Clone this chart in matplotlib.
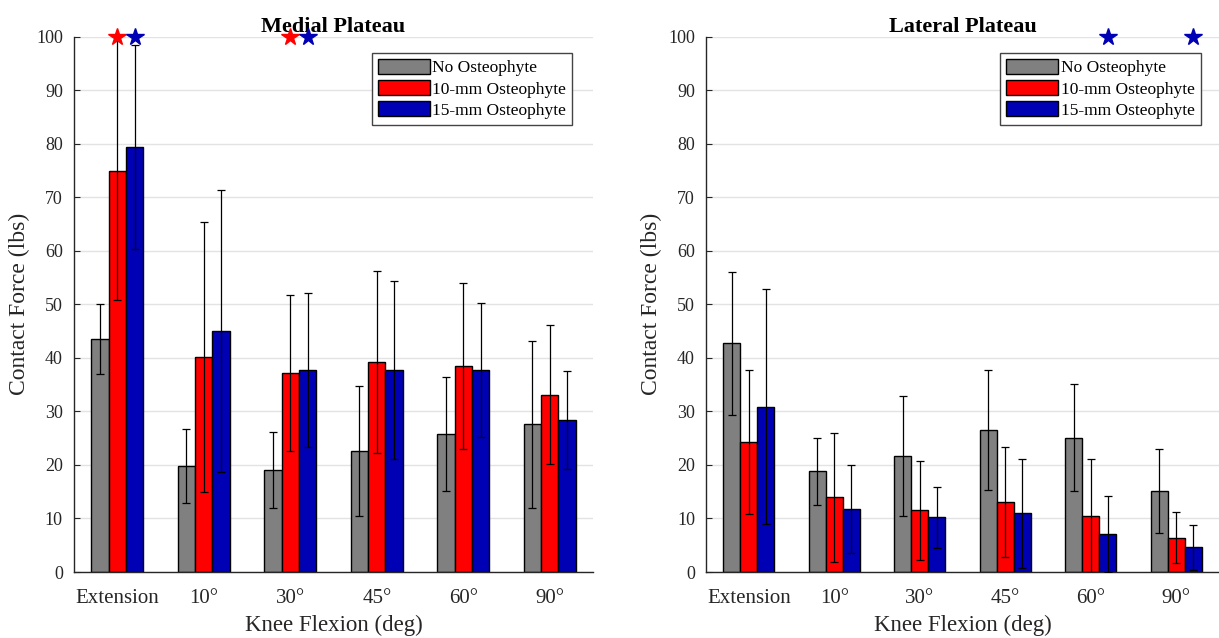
import matplotlib
matplotlib.use("Agg")
import matplotlib.pyplot as plt
import numpy as np

plt.rcParams['font.family'] = ['Liberation Serif', 'DejaVu Serif']

angles = ["Extension", "10°", "30°", "45°", "60°", "90°"]
series_names = ["No Osteophyte", "10-mm Osteophyte", "15-mm Osteophyte"]
colors = ["#808080", "#ff0000", "#0000b4"]

# medial plateau: means and SDs (lbs)
medial_none = [43.5, 19.8, 19.1, 22.6, 25.8, 27.6]
medial_none_sd = [6.5, 6.9, 7.05, 12.1, 10.65, 15.6]
medial_10 = [75.0, 40.1, 37.2, 39.2, 38.5, 33.1]
medial_10_sd = [24.2, 25.2, 14.5, 17.0, 15.5, 13.0]
medial_15 = [79.4, 45.0, 37.7, 37.8, 37.7, 28.4]
medial_15_sd = [19.0, 26.3, 14.4, 16.6, 12.5, 9.1]

# lateral plateau
lateral_none = [42.7, 18.8, 21.7, 26.5, 25.1, 15.2]
lateral_none_sd = [13.3, 6.25, 11.2, 11.2, 10.05, 7.85]
lateral_10 = [24.3, 14.0, 11.5, 13.1, 10.5, 6.4]
lateral_10_sd = [13.45, 12.05, 9.2, 10.2, 10.7, 4.75]
lateral_15 = [30.9, 11.7, 10.2, 11.0, 7.05, 4.6]
lateral_15_sd = [21.9, 8.2, 5.7, 10.2, 7.1, 4.2]

# significance stars: (angle index, series index)
medial_stars = [(0, 1), (0, 2), (2, 1), (2, 2)]
lateral_stars = [(4, 2), (5, 2)]

fig = plt.figure(figsize=(12.19, 6.38), dpi=100)
ax1 = fig.add_axes([0.0607, 0.1034, 0.4258, 0.8391])
ax2 = fig.add_axes([0.5792, 0.1034, 0.4208, 0.8391])

ink = "#262626"
width = 0.2
offsets = [-width, 0, width]
x = np.arange(1, len(angles) + 1)


def panel(ax, means, sds, stars, title, legend_x):
    for k in range(3):
        ax.bar(x + offsets[k], means[k], width, color=colors[k],
               edgecolor="black", linewidth=1.0, label=series_names[k], zorder=2)
        ax.errorbar(x + offsets[k], means[k], yerr=sds[k], fmt="none",
                    ecolor="black", elinewidth=0.9, capsize=3, capthick=0.9, zorder=3)
    for i, k in stars:
        ax.plot(x[i] + offsets[k], 100, marker="*", markersize=13, color=colors[k],
                linestyle="none", clip_on=False, zorder=5)
    ax.set_xlim(0.5, 6.5)
    ax.set_ylim(0, 100)
    ax.set_yticks(np.arange(0, 101, 10))
    ax.set_xticks(x)
    ax.set_xticklabels(angles)
    ax.yaxis.grid(True, color="#e3e3e3", linewidth=1.0, zorder=0)
    ax.set_axisbelow(True)
    for s in ["top", "right"]:
        ax.spines[s].set_visible(False)
    for s in ["left", "bottom"]:
        ax.spines[s].set_color(ink)
        ax.spines[s].set_linewidth(1.0)
    ax.tick_params(axis="y", direction="in", length=4, width=0.8, colors=ink,
                   labelsize=13, pad=8)
    ax.tick_params(axis="x", length=0, colors=ink, labelsize=15, pad=12)
    ax.set_xlabel("Knee Flexion (deg)", fontsize=16.5, color=ink, labelpad=5)
    ax.set_ylabel("Contact Force (lbs)", fontsize=17, color=ink, labelpad=4)
    ax.set_title(title, fontsize=16, fontweight="bold", pad=3)
    leg = ax.legend(loc="upper right", bbox_to_anchor=(legend_x, 0.97),
                    fontsize=12.5, handlelength=3.0, handleheight=0.95,
                    fancybox=False, framealpha=1, edgecolor="#444444",
                    borderpad=0.35, labelspacing=0.22, handletextpad=0.15,
                    borderaxespad=0)
    leg.get_frame().set_linewidth(1.0)


panel(ax1, [medial_none, medial_10, medial_15],
      [medial_none_sd, medial_10_sd, medial_15_sd],
      medial_stars, "Medial Plateau", 0.96)
panel(ax2, [lateral_none, lateral_10, lateral_15],
      [lateral_none_sd, lateral_10_sd, lateral_15_sd],
      lateral_stars, "Lateral Plateau", 0.965)

fig.savefig("out.png", dpi=100)
